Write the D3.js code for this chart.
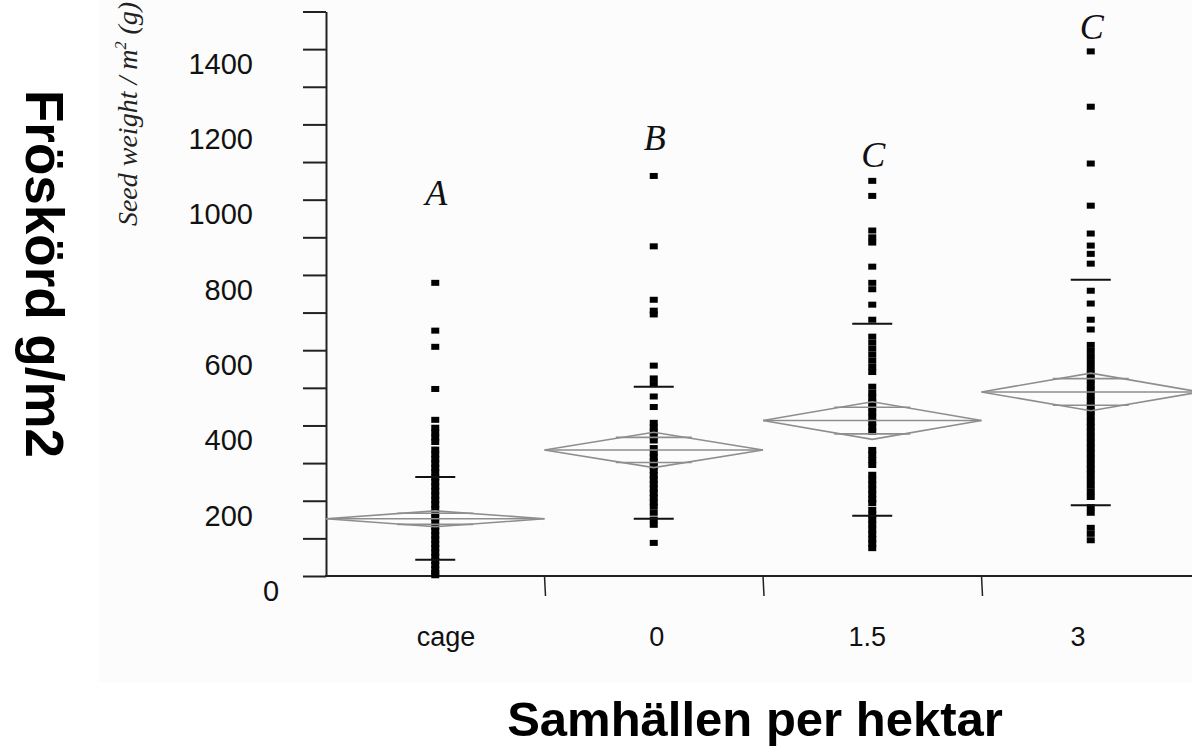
<!DOCTYPE html>
<html>
<head>
<meta charset="utf-8">
<script src="https://cdn.jsdelivr.net/npm/d3@7"></script>
<style>
body{margin:0;background:#fff;}
svg{display:block;}
</style>
</head>
<body>
<svg id="chart" width="1192" height="749"></svg>
<script>
// categories (colonies per hectare)
var cats=["cage","0","1.5","3"];

// seed weight per plot
var ptsCage=[779,652,609,497,415,394,381,368,356,336,324,311,299,287,275,262,250,238,226,214,202,190,178,167,155,143,131,120,108,97,85,74,62,51,40,29,18,8,2];
var ptsZero=[1063,876,734,705,695,559,525,510,477,449,407,395,383,371,360,340,328,316,304,292,280,268,256,244,232,220,208,196,184,168,150,136,88];
var ptsOneHalf=[1050,1010,918,900,886,822,779,762,721,681,636,620,604,588,572,556,542,503,487,474,461,448,435,422,409,396,383,335,322,308,295,269,256,243,230,217,204,194,176,163,150,137,124,111,98,86,74];
var ptsThree=[1394,1247,1096,984,910,878,856,830,758,724,681,655,614,598,582,566,550,536,522,508,494,480,466,452,438,424,410,396,382,368,354,340,326,312,298,284,270,255,240,225,210,183,168,128,112,95];

var means=[152,335,413,489];
var ciHalf=[21,47,50,50];
var sdLow=[43,152,160,188];
var sdHigh=[263,503,670,787];

var letters=["A","B","C","C"];
var letterAt=[985,1131,1086,1428];

var yTicks=[0,100,200,300,400,500,600,700,800,900,1000,1100,1200,1300,1400,1500];
var yLabels=[0,200,400,600,800,1000,1200,1400];

var groups=[ptsCage,ptsZero,ptsOneHalf,ptsThree];

var svg=d3.select("#chart");

// faint grey of the scanned plot area
svg.append("rect").attr("x",98).attr("y",0).attr("width",1094).attr("height",682).attr("fill","#fcfcfc");

var x=d3.scaleBand().domain(cats).range([326,1200]).padding(0);
var y=d3.scaleLinear().domain([0,1500]).range([576,11.5]);
var bw=x.bandwidth();
var labelX=d3.scalePoint().domain(cats).range([446,1078]);

// y axis
var yAxis=d3.axisLeft(y).tickValues(yTicks).tickSize(23).tickSizeOuter(0).tickPadding(50)
  .tickFormat(function(d){return yLabels.indexOf(d)>-1?d:"";});
var ga=svg.append("g").attr("transform","translate(326,0)").call(yAxis);
ga.select(".domain").attr("stroke","#222").attr("stroke-width",2);
ga.selectAll(".tick line").attr("stroke","#222").attr("stroke-width",2);
ga.selectAll(".tick text")
  .attr("font-family","Liberation Sans, Arial, sans-serif")
  .attr("font-size",29).attr("fill","#111")
  .attr("y",15)
  .attr("x",function(d){return d===0?-55:-73;})
  .attr("text-anchor",function(d){return d===0?"middle":"end";});

// x axis line and boundary ticks
svg.append("line").attr("x1",325).attr("x2",1192).attr("y1",y(0)).attr("y2",y(0))
  .attr("stroke","#222").attr("stroke-width",2);
svg.selectAll(".xtick").data(cats.slice(1)).enter().append("line")
  .attr("class","xtick")
  .attr("x1",function(d){return x(d);}).attr("x2",function(d){return x(d)+1;})
  .attr("y1",y(0)).attr("y2",y(0)+20)
  .attr("stroke","#222").attr("stroke-width",1.5);
svg.selectAll(".xlab").data(cats).enter().append("text")
  .attr("class","xlab")
  .attr("x",function(d){return labelX(d);}).attr("y",646)
  .attr("text-anchor","middle")
  .attr("font-family","Liberation Sans Narrow, Arial Narrow, Liberation Sans, sans-serif")
  .attr("font-size",27).attr("fill","#111")
  .text(function(d){return d;});

// data points
cats.forEach(function(c,i){
  var cx=x(c)+bw/2;
  svg.append("g").selectAll("rect").data(groups[i]).enter().append("rect")
    .attr("x",cx-4).attr("y",function(d){return y(d)-3;})
    .attr("width",8).attr("height",6).attr("fill","#000");
});

// means diamonds
cats.forEach(function(c,i){
  var x0=x(c), x1=x(c)+bw, cx=x0+bw/2, m=means[i], ci=ciHalf[i];
  var g=svg.append("g").attr("fill","none").attr("stroke","#8e8e8e").attr("stroke-width",1.6);
  g.append("path").attr("d",d3.line()([[x0,y(m)],[cx,y(m+ci)],[x1,y(m)],[cx,y(m-ci)],[x0,y(m)]]));
  g.append("line").attr("x1",x0).attr("x2",x1).attr("y1",y(m)).attr("y2",y(m));
  [m+ci/Math.SQRT2,m-ci/Math.SQRT2].forEach(function(v){
    g.append("line").attr("x1",cx-38).attr("x2",cx+38).attr("y1",y(v)).attr("y2",y(v));
  });
  // sd bars
  [sdLow[i],sdHigh[i]].forEach(function(v){
    svg.append("line").attr("x1",cx-20).attr("x2",cx+20).attr("y1",y(v)).attr("y2",y(v))
      .attr("stroke","#111").attr("stroke-width",2);
  });
  svg.append("text").attr("x",cx+1).attr("y",y(letterAt[i]))
    .attr("text-anchor","middle")
    .attr("font-family","Liberation Serif, Times New Roman, serif")
    .attr("font-style","italic").attr("font-size",36).attr("fill","#111")
    .text(letters[i]);
});

// axis titles
var st=svg.append("text").attr("transform","translate(137,114) rotate(-90)")
  .attr("text-anchor","middle")
  .attr("font-family","Liberation Serif, Times New Roman, serif")
  .attr("font-style","italic").attr("font-size",28).attr("fill","#222");
st.append("tspan").text("Seed weight / m");
st.append("tspan").attr("font-size",16).attr("dy",-11).text("2");
st.append("tspan").attr("dy",11).text(" (g)");

svg.append("text").attr("transform","translate(26,274) rotate(90)")
  .attr("text-anchor","middle")
  .attr("font-family","Liberation Sans, Arial, sans-serif")
  .attr("font-weight","bold").attr("font-size",53).attr("fill","#000")
  .text("Fröskörd g/m2");

svg.append("text").attr("x",755).attr("y",736)
  .attr("text-anchor","middle")
  .attr("font-family","Liberation Sans, Arial, sans-serif")
  .attr("font-weight","bold").attr("font-size",49).attr("fill","#000")
  .text("Samhällen per hektar");
</script>
</body>
</html>
